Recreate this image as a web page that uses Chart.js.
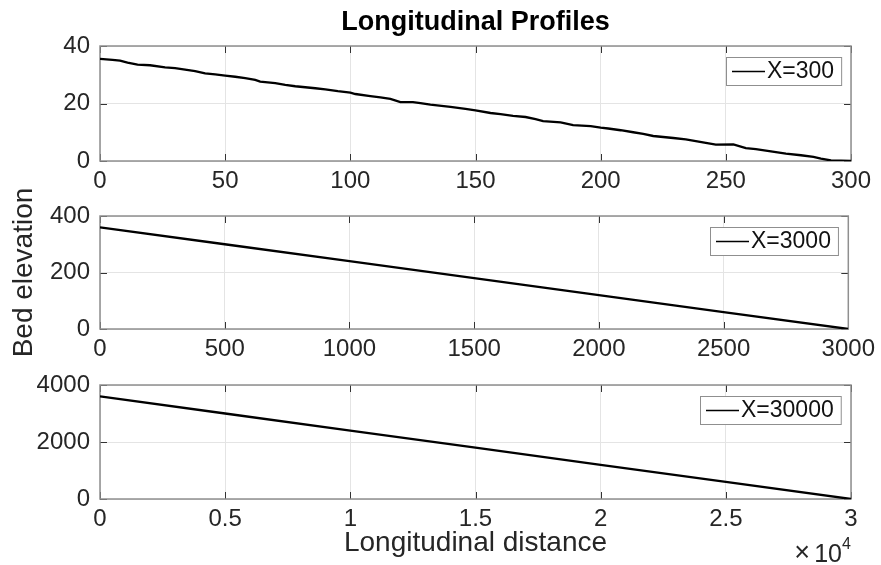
<!DOCTYPE html>
<html>
<head>
<meta charset="utf-8">
<title>Longitudinal Profiles</title>
<script src="https://cdn.jsdelivr.net/npm/chart.js@4/dist/chart.umd.min.js"></script>
<style>
  html, body { margin: 0; padding: 0; background: #fff; }
  #wrap { position: relative; width: 881px; height: 565px; }
  #wrap canvas { position: absolute; left: 0; top: 0; }
</style>
</head>
<body>
<div id="wrap">
  <canvas id="chart1" width="881" height="565"></canvas>
  <canvas id="chart2" width="881" height="565"></canvas>
  <canvas id="chart3" width="881" height="565"></canvas>
</div>
<script>
'use strict';

// X=300 profile
let dist300 = [0, 5, 8, 11, 15, 20, 26, 30, 34, 38, 42, 46, 50, 54, 58, 62, 64, 70, 74, 78,
  86, 90, 95, 100, 102, 108, 112, 116, 120, 125, 128, 132, 140, 146, 150, 156, 160, 165, 170,
  174, 177, 184, 189, 196, 200, 203, 208, 213, 217, 221, 229, 234, 238, 242, 246, 253, 258,
  262, 266, 270, 274, 280, 285, 288, 292, 300];
let bed300 = [35.5, 35.2, 34.9, 34.2, 33.5, 33.3, 32.6, 32.3, 31.8, 31.3, 30.5, 30.1, 29.7,
  29.3, 28.8, 28.2, 27.6, 27.1, 26.5, 26.0, 25.3, 24.9, 24.3, 23.8, 23.3, 22.6, 22.1, 21.6,
  20.5, 20.5, 20.1, 19.6, 18.8, 18.1, 17.6, 16.7, 16.3, 15.7, 15.3, 14.6, 13.9, 13.4, 12.5,
  12.1, 11.6, 11.3, 10.7, 10.0, 9.4, 8.7, 8.0, 7.5, 6.9, 6.3, 5.7, 5.8, 4.5, 4.1, 3.6, 3.1,
  2.6, 2.0, 1.4, 0.8, 0.2, 0];

let dist3000 = [0, 500, 1000, 1500, 2000, 2500, 3000];
let bed3000 = [360, 300, 240, 180, 120, 60, 0];

let dist30000 = [0, 5000, 10000, 15000, 20000, 25000, 30000];
let bed30000 = [3600, 3000, 2400, 1800, 1200, 600, 0];

let seriesNames = ['X=300', 'X=3000', 'X=30000'];

let xTicks300 = [0, 50, 100, 150, 200, 250, 300];
let yTicks300 = [0, 20, 40];
let xTicks3000 = [0, 500, 1000, 1500, 2000, 2500, 3000];
let yTicks3000 = [0, 200, 400];
let xTicks30000 = [0, 5000, 10000, 15000, 20000, 25000, 30000];
let xLabels30000 = ['0', '0.5', '1', '1.5', '2', '2.5', '3'];
let yTicks30000 = [0, 2000, 4000];

const FONT = '"Liberation Sans", Arial, Helvetica, sans-serif';

// axes box with inward tick marks, matlab style
let boxPlugin = {
  id: 'matlabBox',
  beforeDatasetsDraw(chart) {
    let ctx = chart.ctx;
    let a = chart.chartArea;
    let xs = chart.scales.x;
    let ys = chart.scales.y;
    ctx.save();
    ctx.strokeStyle = '#333';
    ctx.lineWidth = 1;
    ctx.beginPath();
    xs.ticks.forEach(t => {
      let px = Math.round(xs.getPixelForValue(t.value)) + 0.5;
      ctx.moveTo(px, a.bottom);
      ctx.lineTo(px, a.bottom - 7);
      ctx.moveTo(px, a.top);
      ctx.lineTo(px, a.top + 7);
    });
    ys.ticks.forEach(t => {
      let py = Math.round(ys.getPixelForValue(t.value)) + 0.5;
      ctx.moveTo(a.left, py);
      ctx.lineTo(a.left + 7, py);
      ctx.moveTo(a.right, py);
      ctx.lineTo(a.right - 7, py);
    });
    ctx.stroke();
    ctx.strokeStyle = '#8f8f8f';
    ctx.lineWidth = 1.5;
    ctx.strokeRect(a.left, a.top, a.right - a.left, a.bottom - a.top);
    ctx.restore();
  }
};

// boxed legend in the upper right corner of each axes
let legendPlugin = {
  id: 'boxLegend',
  afterDatasetsDraw(chart) {
    let ctx = chart.ctx;
    let a = chart.chartArea;
    let label = chart.data.datasets[0].label;
    ctx.save();
    ctx.font = '23px ' + FONT;
    let tw = ctx.measureText(label).width;
    let w = tw + 48;
    let h = 28;
    let x0 = Math.round(a.right - 10 - w);
    let y0 = Math.round(a.top + 11);
    ctx.fillStyle = '#fff';
    ctx.fillRect(x0, y0, w, h);
    ctx.strokeStyle = '#8f8f8f';
    ctx.lineWidth = 1;
    ctx.strokeRect(x0 + 0.5, y0 + 0.5, w, h);
    ctx.strokeStyle = '#000';
    ctx.lineWidth = 1.5;
    ctx.beginPath();
    ctx.moveTo(x0 + 6, y0 + h / 2 + 0.5);
    ctx.lineTo(x0 + 39, y0 + h / 2 + 0.5);
    ctx.stroke();
    ctx.fillStyle = '#111';
    ctx.textAlign = 'left';
    ctx.textBaseline = 'middle';
    ctx.fillText(label, x0 + 41, y0 + h / 2 + 1);
    ctx.restore();
  }
};

// the x10^4 exponent under the last axes
let exponentPlugin = {
  id: 'exponent',
  afterDraw(chart) {
    let ctx = chart.ctx;
    ctx.save();
    ctx.fillStyle = '#262626';
    ctx.textBaseline = 'alphabetic';
    ctx.textAlign = 'left';
    ctx.font = '16px ' + FONT;
    ctx.fillText('4', 842, 549);
    ctx.textAlign = 'right';
    ctx.font = '25px ' + FONT;
    ctx.fillText('10', 842, 562);
    ctx.font = '27px ' + FONT;
    ctx.fillText('\u00d7', 810, 561);
    ctx.restore();
  }
};

function makeChart(id, xs, ys, name, xTicks, xLabels, yTicks, extra) {
  let points = [];
  for (let i = 0; i < xs.length; i++) {
    points.push({ x: xs[i], y: ys[i] });
  }
  let plugins = [boxPlugin, legendPlugin];
  if (extra.exponent) plugins.push(exponentPlugin);
  return new Chart(document.getElementById(id), {
    type: 'line',
    data: {
      datasets: [{
        label: name,
        data: points,
        borderColor: '#000',
        borderWidth: 2.3,
        pointRadius: 0,
        tension: 0
      }]
    },
    options: {
      responsive: false,
      animation: false,
      layout: { padding: extra.padding },
      plugins: {
        legend: { display: false },
        tooltip: { enabled: false },
        title: extra.title ? {
          display: true,
          text: extra.title,
          fullSize: false,
          color: '#000',
          font: { family: FONT, size: 27, weight: 'bold' },
          padding: { top: 6.4, bottom: 7.2 }
        } : { display: false }
      },
      scales: {
        x: {
          type: 'linear',
          min: xTicks[0],
          max: xTicks[xTicks.length - 1],
          afterBuildTicks: s => { s.ticks = xTicks.map(v => ({ value: v })); },
          afterFit: s => { s.height = extra.xHeight; },
          grid: { color: '#e4e4e4', drawTicks: false },
          border: { display: false },
          ticks: {
            autoSkip: false,
            maxRotation: 0,
            padding: 6,
            color: '#262626',
            font: { family: FONT, size: 24 },
            callback: (v, i) => xLabels[i]
          },
          title: extra.xTitle ? {
            display: true,
            text: extra.xTitle,
            color: '#262626',
            font: { family: FONT, size: 28 },
            padding: { top: 0, bottom: 5 }
          } : { display: false }
        },
        y: {
          min: yTicks[0],
          max: yTicks[yTicks.length - 1],
          afterBuildTicks: s => { s.ticks = yTicks.map(v => ({ value: v })); },
          afterFit: s => { s.width = 100; },
          grid: { color: '#e4e4e4', drawTicks: false },
          border: { display: false },
          ticks: {
            padding: 10,
            color: '#262626',
            font: { family: FONT, size: 24 },
            callback: v => String(v)
          },
          title: extra.yTitle ? {
            display: true,
            text: extra.yTitle,
            color: '#262626',
            font: { family: FONT, size: 28 },
            padding: { top: 7, bottom: 0 }
          } : { display: false }
        }
      }
    },
    plugins: plugins
  });
}

makeChart('chart1', dist300, bed300, seriesNames[0], xTicks300, xTicks300.map(String), yTicks300, {
  title: 'Longitudinal Profiles',
  padding: { top: 0, right: 30, bottom: 375, left: 0 },
  xHeight: 29
});

makeChart('chart2', dist3000, bed3000, seriesNames[1], xTicks3000, xTicks3000.map(String), yTicks3000, {
  yTitle: 'Bed elevation',
  padding: { top: 216, right: 30, bottom: 205, left: 0 },
  xHeight: 31
});

makeChart('chart3', dist30000, bed30000, seriesNames[2], xTicks30000, xLabels30000, yTicks30000, {
  xTitle: 'Longitudinal distance',
  exponent: true,
  padding: { top: 385, right: 30, bottom: 0, left: 0 },
  xHeight: 66
});
</script>
</body>
</html>
